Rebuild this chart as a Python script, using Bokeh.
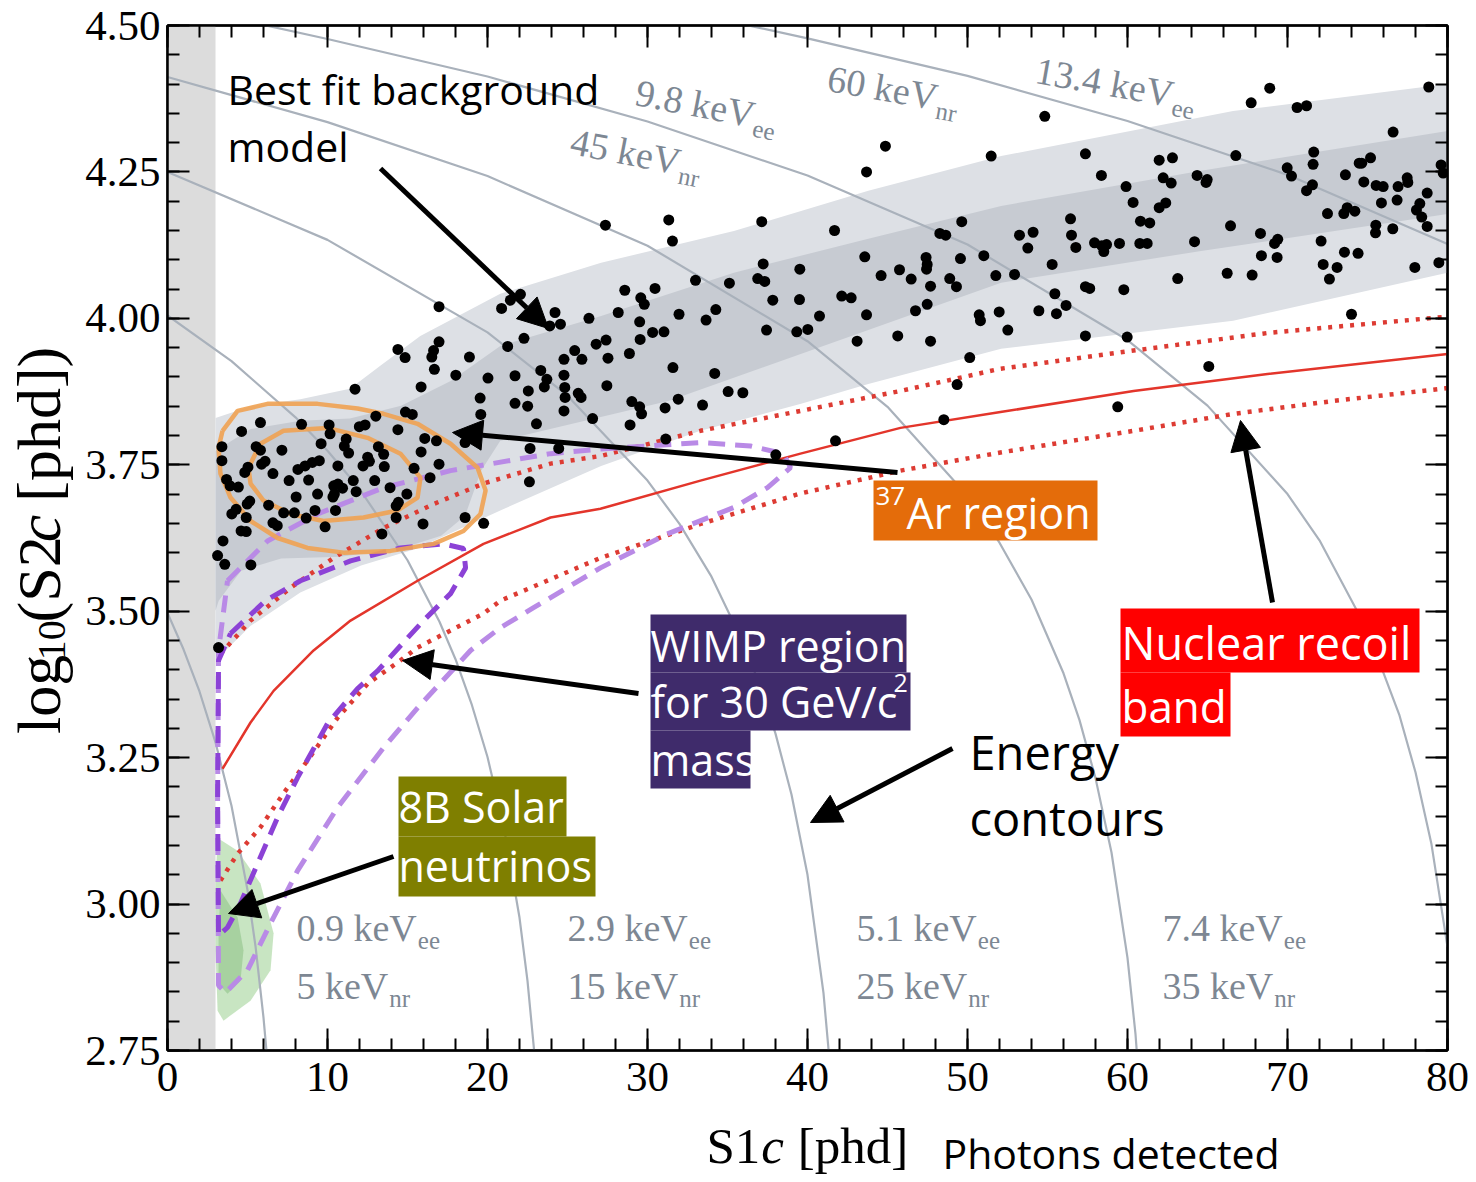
import math
from bokeh.plotting import figure
from bokeh.layouts import column, row
from bokeh.models import (Range1d, LinearAxis, SingleIntervalTicker, NumeralTickFormatter,
                          Label, Arrow, NormalHead, BoxAnnotation)
from bokeh.embed import file_html
from bokeh.resources import INLINE

# ------------------------------------------------------------------ data
# energy contours (keVee / keVnr) : S1c and log10(S2c) samples
ec_labels_ee = ["0.9", "2.9", "5.1", "7.4", "9.8", "13.4"]
ec_labels_nr = ["5", "15", "25", "35", "45", "60"]
ec_0p9_s1 = [0, 1, 2, 3, 4, 5, 5.5, 6, 6.2]
ec_0p9_y = [3.497, 3.435, 3.363, 3.276, 3.168, 3.024, 2.928, 2.806, 2.745]
ec_2p9_s1 = [0, 4, 8, 10, 12, 15, 17, 18, 19, 20, 21, 22, 22.5, 23]
ec_2p9_y = [4.005, 3.927, 3.831, 3.774, 3.709, 3.587, 3.482, 3.418, 3.342, 3.251, 3.135, 2.977, 2.869, 2.725]
ec_5p1_s1 = [0, 10, 20, 25, 30, 32, 34, 36, 37, 38, 39, 40, 41, 41.5]
ec_5p1_y = [4.250, 4.134, 3.976, 3.868, 3.723, 3.649, 3.559, 3.445, 3.375, 3.291, 3.187, 3.050, 2.848, 2.695]
ec_7p4_s1 = [0, 10, 20, 30, 40, 45, 50, 52, 54, 56, 57, 58, 59, 60, 60.5, 61]
ec_7p4_y = [4.412, 4.335, 4.243, 4.124, 3.961, 3.849, 3.697, 3.617, 3.520, 3.394, 3.314, 3.215, 3.088, 2.908, 2.778, 2.593]
ec_9p8_s1 = [6, 10, 20, 30, 40, 50, 60, 65, 70, 72, 75, 77, 78, 79, 80]
ec_9p8_y = [4.501, 4.477, 4.413, 4.336, 4.244, 4.126, 3.963, 3.851, 3.700, 3.621, 3.467, 3.322, 3.225, 3.102, 2.927]
ec_13p4_s1 = [36, 40, 50, 60, 70, 80]
ec_13p4_y = [4.502, 4.478, 4.414, 4.337, 4.245, 4.127]

# best-fit background model bands
bg_outer_up_s1 = [3, 5.2, 8.3, 11.4, 13.3, 15.8, 20.8, 27.1, 35.4, 43.8, 52.1, 66.6, 80]
bg_outer_up_y = [3.830, 3.850, 3.862, 3.880, 3.919, 3.970, 4.042, 4.095, 4.149, 4.218, 4.277, 4.354, 4.400]
bg_outer_lo_s1 = [3, 5.2, 8.3, 12.1, 15.6, 20.8, 27.1, 33.3, 39.6, 43.8, 52.1, 66.6, 80]
bg_outer_lo_y = [3.416, 3.475, 3.532, 3.578, 3.607, 3.672, 3.748, 3.808, 3.854, 3.888, 3.948, 3.996, 4.078]
bg_inner_up_s1 = [3, 5.2, 8.3, 11.4, 14.6, 17.7, 20.8, 27.1, 35.4, 43.8, 52.1, 64.6, 80]
bg_inner_up_y = [3.774, 3.811, 3.825, 3.829, 3.851, 3.893, 3.953, 4.004, 4.078, 4.136, 4.192, 4.252, 4.320]
bg_inner_lo_s1 = [3, 3.2, 4.6, 7.1, 10.8, 14.6, 17.1, 18.6, 19.6, 20.8, 31.3, 43.8, 52.1, 64.6, 80]
bg_inner_lo_y = [3.501, 3.518, 3.569, 3.590, 3.593, 3.607, 3.629, 3.663, 3.740, 3.791, 3.859, 3.980, 4.061, 4.115, 4.178]

# nuclear recoil band (median, 10% / 90%)
nr_med_s1 = [3.44, 5.19, 6.63, 9.13, 11.44, 15.63, 19.75, 23.94, 27.06, 33.31, 39.56, 45.81, 52.06, 60.38, 68.75, 80]
nr_med_y = [3.231, 3.310, 3.364, 3.433, 3.484, 3.552, 3.615, 3.660, 3.675, 3.723, 3.769, 3.813, 3.840, 3.876, 3.905, 3.939]
nr_hi_s1 = [3.31, 5.19, 7.69, 10.38, 13.5, 16.63, 19.75, 23.94, 27.06, 33.31, 39.56, 45.81, 52.06, 60.38, 68.75, 80]
nr_hi_y = [3.427, 3.484, 3.540, 3.591, 3.642, 3.683, 3.718, 3.752, 3.765, 3.808, 3.842, 3.876, 3.914, 3.945, 3.975, 4.003]
nr_lo_s1 = [3.31, 4.38, 5.81, 7.25, 8.75, 10.63, 12.5, 14.56, 15.63, 19.75, 20.81, 27.06, 33.31, 39.56, 45.81, 52.06, 60.38, 66.63, 72.88, 80]
nr_lo_y = [3.040, 3.086, 3.131, 3.189, 3.245, 3.318, 3.376, 3.416, 3.438, 3.496, 3.518, 3.591, 3.649, 3.701, 3.740, 3.771, 3.808, 3.837, 3.859, 3.881]

# WIMP (30 GeV/c^2) regions
wimp_outer_s1 = [3.75, 6.25, 9.38, 13.5, 17.69, 23.94, 27.06, 33.31, 36.44, 38.5, 38.94, 37.5, 35.38, 31.25,
                 27.06, 22.88, 20.81, 18.94, 15.63, 13.5, 10.63, 8.13, 6.44, 5.0, 3.63, 3.19, 3.13, 3.19, 3.75]
wimp_outer_y = [3.552, 3.620, 3.666, 3.711, 3.740, 3.769, 3.777, 3.788, 3.782, 3.769, 3.745, 3.711, 3.677, 3.632,
                3.574, 3.506, 3.472, 3.433, 3.335, 3.267, 3.165, 3.057, 2.967, 2.887, 2.849, 2.861, 3.177, 3.433, 3.552]
wimp_inner_s1 = [3.94, 6.13, 8.31, 11.44, 14.56, 17.25, 18.5, 18.63, 17.69, 16.0, 14.56, 13.13, 11.88, 10.0,
                 8.13, 6.88, 5.63, 4.56, 3.75, 3.19, 3.13, 3.19, 3.94]
wimp_inner_y = [3.462, 3.518, 3.552, 3.586, 3.608, 3.615, 3.607, 3.574, 3.530, 3.484, 3.441, 3.398, 3.368, 3.308,
                3.216, 3.148, 3.069, 3.001, 2.960, 2.946, 3.177, 3.416, 3.462]

# 37Ar contours
ar_outer_s1 = [3.44, 4.38, 6.25, 9.38, 11.88, 13.5, 15.63, 17.69, 19.38, 19.88, 19.56, 18.5, 16.63, 13.94,
               11.0, 8.75, 6.88, 5.19, 3.94, 3.31, 3.19, 3.44]
ar_outer_y = [3.808, 3.842, 3.854, 3.854, 3.846, 3.837, 3.820, 3.786, 3.745, 3.706, 3.666, 3.637, 3.615, 3.603,
              3.600, 3.608, 3.625, 3.654, 3.694, 3.735, 3.779, 3.808]
ar_inner_s1 = [5.06, 5.81, 7.25, 10.0, 12.5, 14.56, 15.81, 15.63, 14.38, 12.25, 9.75, 7.69, 6.0, 5.19, 5.06]
ar_inner_y = [3.745, 3.786, 3.808, 3.813, 3.796, 3.769, 3.728, 3.694, 3.672, 3.660, 3.654, 3.666, 3.689, 3.718, 3.745]

# 8B solar neutrino region
b8_outer_s1 = [3.13, 4.38, 5.81, 6.63, 6.44, 5.19, 3.5, 3.13, 3.0, 3.0]
b8_outer_y = [3.113, 3.091, 3.035, 2.950, 2.887, 2.835, 2.801, 2.818, 2.921, 3.035]
b8_inner_s1 = [3.31, 4.38, 4.75, 4.56, 3.75, 3.19, 3.19]
b8_inner_y = [3.023, 2.977, 2.921, 2.869, 2.847, 2.864, 2.950]

# observed events
dots_s1 = [
    16.97, 20.88, 21.43, 22.06, 24.22, 23.89, 24.56, 26.34, 28.58, 29.58, 29.80, 30.47, 33.0, 31.97, 33.66, 34.27,
    28.17, 29.51, 30.32, 31.03, 26.79, 27.41, 25.45, 25.9, 24.78, 27.53, 28.87, 29.54, 22.28, 21.26, 16.97, 16.63,
    16.52, 14.85, 14.40, 18.87, 16.68, 18.02, 20.03, 21.72, 23.33, 24.78, 23.71, 23.55, 24.83, 24.85, 25.67, 25.85,
    27.46, 31.59, 34.2, 22.55, 22.51, 21.72, 19.54, 19.58, 15.85, 11.72, 24.78, 23.06, 26.57, 29.02, 29.51, 29.63,
    31.1, 31.92, 33.44, 28.91, 31.14, 14.87, 15.3, 13.02, 22.66, 24.45, 18.6, 22.62, 16.81, 16.08, 15.85, 14.40,
    12.35, 11.99, 10.1, 8.38, 5.81, 4.63, 3.40, 3.40, 5.54, 5.81, 7.15, 6.10, 5.88, 5.03, 4.83, 3.69,
    3.91, 4.43, 6.59, 8.15, 8.6, 9.05, 9.49, 9.6, 10.16, 11.17, 11.05, 11.32, 10.65, 12.51, 12.62, 12.22,
    13.18, 13.51, 13.55, 15.41, 16.97, 16.41, 12.95, 13.91, 14.96, 14.43, 14.29, 14.29, 15.97, 18.6, 19.76, 13.4,
    7.6, 8.82, 9.38, 8.04, 10.39, 10.43, 10.65, 10.94, 11.61, 11.79, 10.34, 10.5, 9.22, 8.67, 9.85, 7.93,
    7.26, 6.32, 5.14, 4.98, 4.29, 4.02, 4.92, 4.92, 4.6, 6.59, 6.86, 3.47, 3.13, 3.58, 5.21, 3.19,
    38.02, 41.75, 48.52, 59.39,
    44.87, 43.69, 51.48, 27.37, 31.33, 31.56, 37.14, 41.69, 49.64, 48.27, 48.64, 51.02, 43.58, 37.23, 39.52, 36.89,
    37.33, 35.12, 44.6, 45.75, 46.48, 47.41, 47.48, 47.44, 47.69, 48.89, 49.31, 49.56, 51.77, 42.14, 42.73, 37.83,
    39.5, 40.75, 43.69, 47.48, 46.75, 50.73, 50.81, 51.98, 37.44, 39.33, 40.02, 43.1, 45.64, 47.69, 50.14, 49.35,
    35.04, 35.96,
    54.83, 67.73, 68.89, 70.6, 71.19, 78.83, 76.6, 57.37, 58.37, 59.91, 60.35, 61.98, 62.81, 62.23, 62.73, 61.98,
    62.39, 64.35, 64.98, 64.91, 66.77, 69.98, 70.25, 71.64, 71.6, 71.56, 71.19, 73.62, 74.48, 74.64, 75.19, 74.77,
    75.54, 75.98, 76.91, 77.48, 77.52, 79.6, 79.73, 78.73, 78.27, 78.06, 78.39, 78.73, 76.85, 75.87, 76.58, 75.52,
    75.5, 72.5, 73.52, 73.73, 74.21, 72.1, 72.23, 72.62, 73.1, 73.56, 74.41, 77.96, 79.46, 66.44, 64.19, 63.14,
    66.23, 67.79, 68.31, 68.37, 69.35, 69.19, 69.39, 56.44, 56.5, 56.77, 57.94, 58.39, 58.69, 58.52, 59.5, 60.81,
    61.39, 60.77, 61.23, 53.25, 54.1, 53.77, 55.29, 55.46, 55.56, 56.16, 54.46, 52.94, 52.52, 57.37, 57.64, 59.77,
    57.37, 59.98, 65.08, 74.0]
dots_log_s2 = [
    4.020, 4.017, 4.031, 4.041, 4.010, 3.987, 3.990, 4.000, 4.048, 4.035, 4.024, 4.051, 4.065, 4.007, 3.997, 4.015,
    4.010, 3.994, 3.976, 3.977, 3.956, 3.963, 3.945, 3.930, 3.930, 3.932, 3.940, 3.964, 3.966, 3.952, 3.960, 3.945,
    3.934, 3.933, 3.947, 3.934, 3.913, 3.903, 3.898, 3.902, 3.911, 3.903, 3.896, 3.883, 3.882, 3.865, 3.872, 3.865,
    3.885, 3.916, 3.906, 3.876, 3.850, 3.855, 3.864, 3.836, 3.883, 3.879, 3.842, 3.820, 3.829, 3.858, 3.849, 3.837,
    3.847, 3.862, 3.852, 3.818, 3.794, 3.840, 3.836, 3.833, 3.778, 3.778, 3.788, 3.721, 3.791, 3.795, 3.772, 3.810,
    3.818, 3.815, 3.818, 3.819, 3.822, 3.807, 3.781, 3.757, 3.781, 3.775, 3.775, 3.756, 3.751, 3.746, 3.737, 3.725,
    3.714, 3.712, 3.735, 3.742, 3.748, 3.754, 3.757, 3.786, 3.803, 3.794, 3.782, 3.770, 3.748, 3.763, 3.756, 3.748,
    3.781, 3.768, 3.747, 3.744, 3.751, 3.728, 3.723, 3.711, 3.700, 3.686, 3.680, 3.660, 3.649, 3.660, 3.650, 3.632,
    3.723, 3.724, 3.700, 3.695, 3.714, 3.700, 3.717, 3.710, 3.723, 3.704, 3.695, 3.672, 3.672, 3.659, 3.644, 3.668,
    3.668, 3.681, 3.688, 3.683, 3.674, 3.666, 3.660, 3.636, 3.637, 3.651, 3.646, 3.620, 3.595, 3.580, 3.579, 3.438,
    3.767, 3.791, 3.827, 3.849,
    4.294, 4.250, 4.277, 4.159, 4.168, 4.132, 4.165, 4.150, 4.165, 4.145, 4.142, 4.107, 4.105, 4.093, 4.084, 4.068,
    4.063, 4.060, 4.073, 4.083, 4.067, 4.104, 4.092, 4.084, 4.055, 4.068, 4.054, 4.102, 4.073, 4.038, 4.035, 4.031,
    4.032, 4.004, 4.006, 4.024, 4.013, 4.006, 3.996, 4.011, 3.980, 3.977, 3.981, 3.961, 3.970, 3.961, 3.933, 3.887,
    3.875, 3.873,
    4.345, 4.368, 4.393, 4.360, 4.363, 4.395, 4.318, 4.281, 4.244, 4.225, 4.198, 4.270, 4.274, 4.240, 4.231, 4.189,
    4.197, 4.244, 4.237, 4.232, 4.278, 4.257, 4.243, 4.284, 4.263, 4.228, 4.218, 4.245, 4.265, 4.265, 4.274, 4.233,
    4.227, 4.225, 4.225, 4.240, 4.232, 4.262, 4.248, 4.214, 4.196, 4.185, 4.173, 4.157, 4.202, 4.197, 4.153, 4.159,
    4.146, 4.179, 4.179, 4.189, 4.183, 4.132, 4.092, 4.067, 4.087, 4.113, 4.111, 4.087, 4.095, 4.158, 4.131, 4.068,
    4.077, 4.074, 4.145, 4.107, 4.104, 4.128, 4.135, 4.170, 4.142, 4.121, 4.129, 4.124, 4.126, 4.114, 4.128, 4.166,
    4.163, 4.128, 4.128, 4.142, 4.147, 4.120, 4.092, 4.042, 4.008, 4.022, 4.013, 4.075, 3.980, 4.054, 4.051, 4.049,
    3.970, 3.968, 3.918, 4.007]

x_ticks_interval = 10
y_ticks_interval = 0.25

# ------------------------------------------------------------------ layout
W, H = 1476, 1182
LW = 82            # strip holding the y title
XH = 68            # strip holding the x title
FL, FR, FT, FB = 167, 1447, 25, 1050     # frame edges on the page
X0, X1, Y0, Y1 = 0.0, 80.0, 2.75, 4.50
BASE = 0.39        # baseline correction (fraction of font size)


def sx(px):
    return X0 + (px - FL) * (X1 - X0) / (FR - FL)


def sy(py):
    return Y0 + (FB - py) * (Y1 - Y0) / (FB - FT)


def ident(v):
    return v


TIMES = {"0": .5, "1": .5, "2": .5, "3": .5, "4": .5, "5": .5, "6": .5, "7": .5, "8": .5, "9": .5,
         ".": .25, " ": .25, "k": .5, "e": .444, "V": .722, "n": .5, "r": .333, "l": .278, "o": .5,
         "g": .5, "(": .333, ")": .333, "S": .556, "[": .333, "]": .333, "p": .5, "h": .5, "d": .5, "c": .444}


def tw(s, size):
    return sum(TIMES.get(ch, .5) for ch in s) * size


SERIF = "Liberation Serif"
SANS = "Open Sans"
GRAY_TXT = "#7d8793"

p = figure(width=W - LW, height=H - XH, x_range=Range1d(X0, X1), y_range=Range1d(Y0, Y1),
           output_backend="svg", toolbar_location=None,
           x_axis_type=None, y_axis_type=None,
           min_border_left=FL - LW, min_border_right=W - FR, min_border_top=FT,
           min_border_bottom=(H - XH) - FB)
p.background_fill_color = "white"
p.border_fill_color = "white"
p.outline_line_color = "black"
p.outline_line_width = 2


def make_axis(interval, show, fmt=None):
    ax = LinearAxis(ticker=SingleIntervalTicker(interval=interval, num_minor_ticks=5))
    if fmt:
        ax.formatter = NumeralTickFormatter(format=fmt)
    ax.axis_line_width = 2.5
    ax.axis_line_color = "black"
    ax.major_tick_in = 22
    ax.major_tick_out = 0
    ax.minor_tick_in = 12
    ax.minor_tick_out = 0
    ax.major_tick_line_width = 2
    ax.minor_tick_line_width = 2
    ax.major_tick_line_color = "black"
    ax.minor_tick_line_color = "black"
    ax.major_label_text_font = SERIF
    if show:
        ax.major_label_text_color = "black"
        ax.major_label_text_font_size = "43px"
    else:
        ax.major_label_text_color = None
        ax.major_label_text_font_size = "1px"
        ax.major_label_standoff = 0
    return ax


xb = make_axis(x_ticks_interval, True)
xb.major_label_standoff = 12
yl = make_axis(y_ticks_interval, True, "0.00")
yl.major_label_standoff = 7
xt = make_axis(x_ticks_interval, False)
yr = make_axis(y_ticks_interval, False)
p.add_layout(xb, "below")
p.add_layout(yl, "left")
p.add_layout(xt, "above")
p.add_layout(yr, "right")

# threshold band
p.add_layout(BoxAnnotation(left=0, right=3, fill_color="#dcdcdc", fill_alpha=1.0,
                           line_color=None, level="underlay"))

# background model bands
p.patch(bg_outer_up_s1 + bg_outer_lo_s1[::-1], bg_outer_up_y + bg_outer_lo_y[::-1],
        fill_color="#dde0e5", line_color=None)
p.patch(bg_inner_up_s1 + bg_inner_lo_s1[::-1], bg_inner_up_y + bg_inner_lo_y[::-1],
        fill_color="#c7cbd2", line_color=None)

# 8B
p.patch(b8_outer_s1, b8_outer_y, fill_color="#9bcf90", fill_alpha=0.55, line_color=None)
p.patch(b8_inner_s1, b8_inner_y, fill_color="#7fb777", fill_alpha=0.45, line_color=None)

# energy contours
for xs, ys in [(ec_0p9_s1, ec_0p9_y), (ec_2p9_s1, ec_2p9_y), (ec_5p1_s1, ec_5p1_y),
               (ec_7p4_s1, ec_7p4_y), (ec_9p8_s1, ec_9p8_y), (ec_13p4_s1, ec_13p4_y)]:
    p.line(xs, ys, line_color="#a9b1bb", line_width=2.2)

# nuclear recoil band
p.line(nr_med_s1, nr_med_y, line_color="#e3352b", line_width=2.5)
p.line(nr_hi_s1, nr_hi_y, line_color="#dd3b33", line_width=4.5, line_dash="4 7")
p.line(nr_lo_s1, nr_lo_y, line_color="#dd3b33", line_width=4.5, line_dash="4 7")

# WIMP regions
p.line(wimp_outer_s1, wimp_outer_y, line_color="#b98ae6", line_width=5, line_dash="17 10")
p.line(wimp_inner_s1, wimp_inner_y, line_color="#8c42d6", line_width=5, line_dash="17 10")

# 37Ar contours
p.line(ar_outer_s1, ar_outer_y, line_color="#f0a252", line_alpha=0.9, line_width=4.5)
p.line(ar_inner_s1, ar_inner_y, line_color="#f0a252", line_alpha=0.9, line_width=4.5)

# events
p.scatter(dots_s1, dots_log_s2, marker="circle", size=11, fill_color="black", line_color=None)

# title strips (texts outside the frame)
ylab = figure(width=LW, height=H - XH, x_range=Range1d(0, LW), y_range=Range1d(H - XH, 0),
              output_backend="svg", toolbar_location=None, x_axis_type=None, y_axis_type=None,
              min_border=0)
xlab = figure(width=W, height=XH, x_range=Range1d(0, W), y_range=Range1d(H, H - XH),
              output_backend="svg", toolbar_location=None, x_axis_type=None, y_axis_type=None,
              min_border=0)
for f in (ylab, xlab):
    f.outline_line_color = None
    f.background_fill_color = "white"
    f.border_fill_color = "white"


# ------------------------------------------------------------------ text helpers
def runs_at(fig, mx, my, runs, px, py, angle_deg=0.0):
    a = math.radians(angle_deg)
    d = (math.cos(a), -math.sin(a))
    n = (math.sin(a), math.cos(a))
    adv = 0.0
    for text, size, italic, drop, font, color in runs:
        stripped = text.lstrip(" ")
        adv += tw(text[:len(text) - len(stripped)], size)
        off = drop - BASE * size
        x = px + adv * d[0] + off * n[0]
        y = py + adv * d[1] + off * n[1]
        fig.add_layout(Label(x=mx(x), y=my(y), text=stripped, angle=a, text_font=font,
                             text_font_size=f"{size}px", text_font_style="italic" if italic else "normal",
                             text_color=color, text_align="left", text_baseline="alphabetic"))
        adv += tw(stripped, size) + 1


def contour_label(main, sub, px, py, angle=0.0):
    runs_at(p, sx, sy, [(main + " keV", 38, False, 0, SERIF, GRAY_TXT),
                        (sub, 25, False, 8, SERIF, GRAY_TXT)], px, py, angle)


for ee, nr, px in zip(ec_labels_ee[:4], ec_labels_nr[:4], [296, 567, 856, 1162]):
    contour_label(ee, "ee", px, 942)
    contour_label(nr, "nr", px, 1000)
contour_label(ec_labels_ee[4], "ee", 633, 106, -11)
contour_label(ec_labels_nr[4], "nr", 568, 155, -11)
contour_label(ec_labels_nr[5], "nr", 825, 92, -10)
contour_label(ec_labels_ee[5], "ee", 1033, 84, -10)

# axis titles
runs_at(xlab, ident, ident,
        [("S1", 51, False, 0, SERIF, "black"), ("c", 51, True, 0, SERIF, "black"),
         (" [phd]", 51, False, 0, SERIF, "black")], 706, 1165)
runs_at(xlab, ident, ident, [("Photons detected", 41, False, 0, SANS, "black")], 942, 1168)
runs_at(ylab, ident, ident,
        [("log", 62, False, 0, SERIF, "black"), ("10", 40, False, 4, SERIF, "black"),
         ("(S2", 62, False, 0, SERIF, "black"), ("c", 62, True, 0, SERIF, "black"),
         (" [phd])", 62, False, 0, SERIF, "black")], 63, 770, 90)


def sans(text, px, py, size, color="black"):
    runs_at(p, sx, sy, [(text, size, False, 0, SANS, color)], px, py)


def box(l, r, t, b, color):
    p.add_layout(BoxAnnotation(left=sx(l), right=sx(r), top=sy(t), bottom=sy(b),
                               fill_color=color, fill_alpha=1.0, line_color=None))


sans("Best fit background", 227, 104, 41)
sans("model", 227, 161, 41)
sans("Energy", 969, 770, 47)
sans("contours", 969, 836, 47)

box(873, 1097, 480, 540, "#e46c0a")
sans("37", 875, 506, 26, "white")
sans("Ar region", 906, 529, 43, "white")

box(650, 906, 614, 672, "#3f2b6b")
box(650, 910, 672, 730, "#3f2b6b")
box(650, 750, 730, 788, "#3f2b6b")
sans("WIMP region", 650, 662, 43, "white")
sans("for 30 GeV/c", 650, 718, 43, "white")
sans("2", 893, 692, 25, "white")
sans("mass", 650, 776, 43, "white")

box(398, 566, 776, 836, "#7f7f00")
box(398, 595, 836, 896, "#7f7f00")
sans("8B Solar", 398, 823, 43, "white")
sans("neutrinos", 398, 882, 43, "white")

box(1120, 1419, 608, 672, "#ff0000")
box(1120, 1230, 672, 736, "#ff0000")
sans("Nuclear recoil", 1121, 660, 45, "white")
sans("band", 1121, 723, 44, "white")

# arrows (anchor positions on the page -> data)
for (x0, y0, x1, y1) in [(380, 168, 548, 328), (897, 472, 452, 432), (638, 693, 402, 660),
                         (393, 856, 228, 913), (1272, 602, 1240, 420), (952, 748, 810, 822)]:
    p.add_layout(Arrow(end=NormalHead(size=30, fill_color="black", line_color="black", line_width=1),
                       x_start=sx(x0), y_start=sy(y0), x_end=sx(x1), y_end=sy(y1),
                       line_width=5, line_color="black"))

layout = column(row(ylab, p), xlab)
open("out.html", "w").write(file_html(layout, INLINE))
